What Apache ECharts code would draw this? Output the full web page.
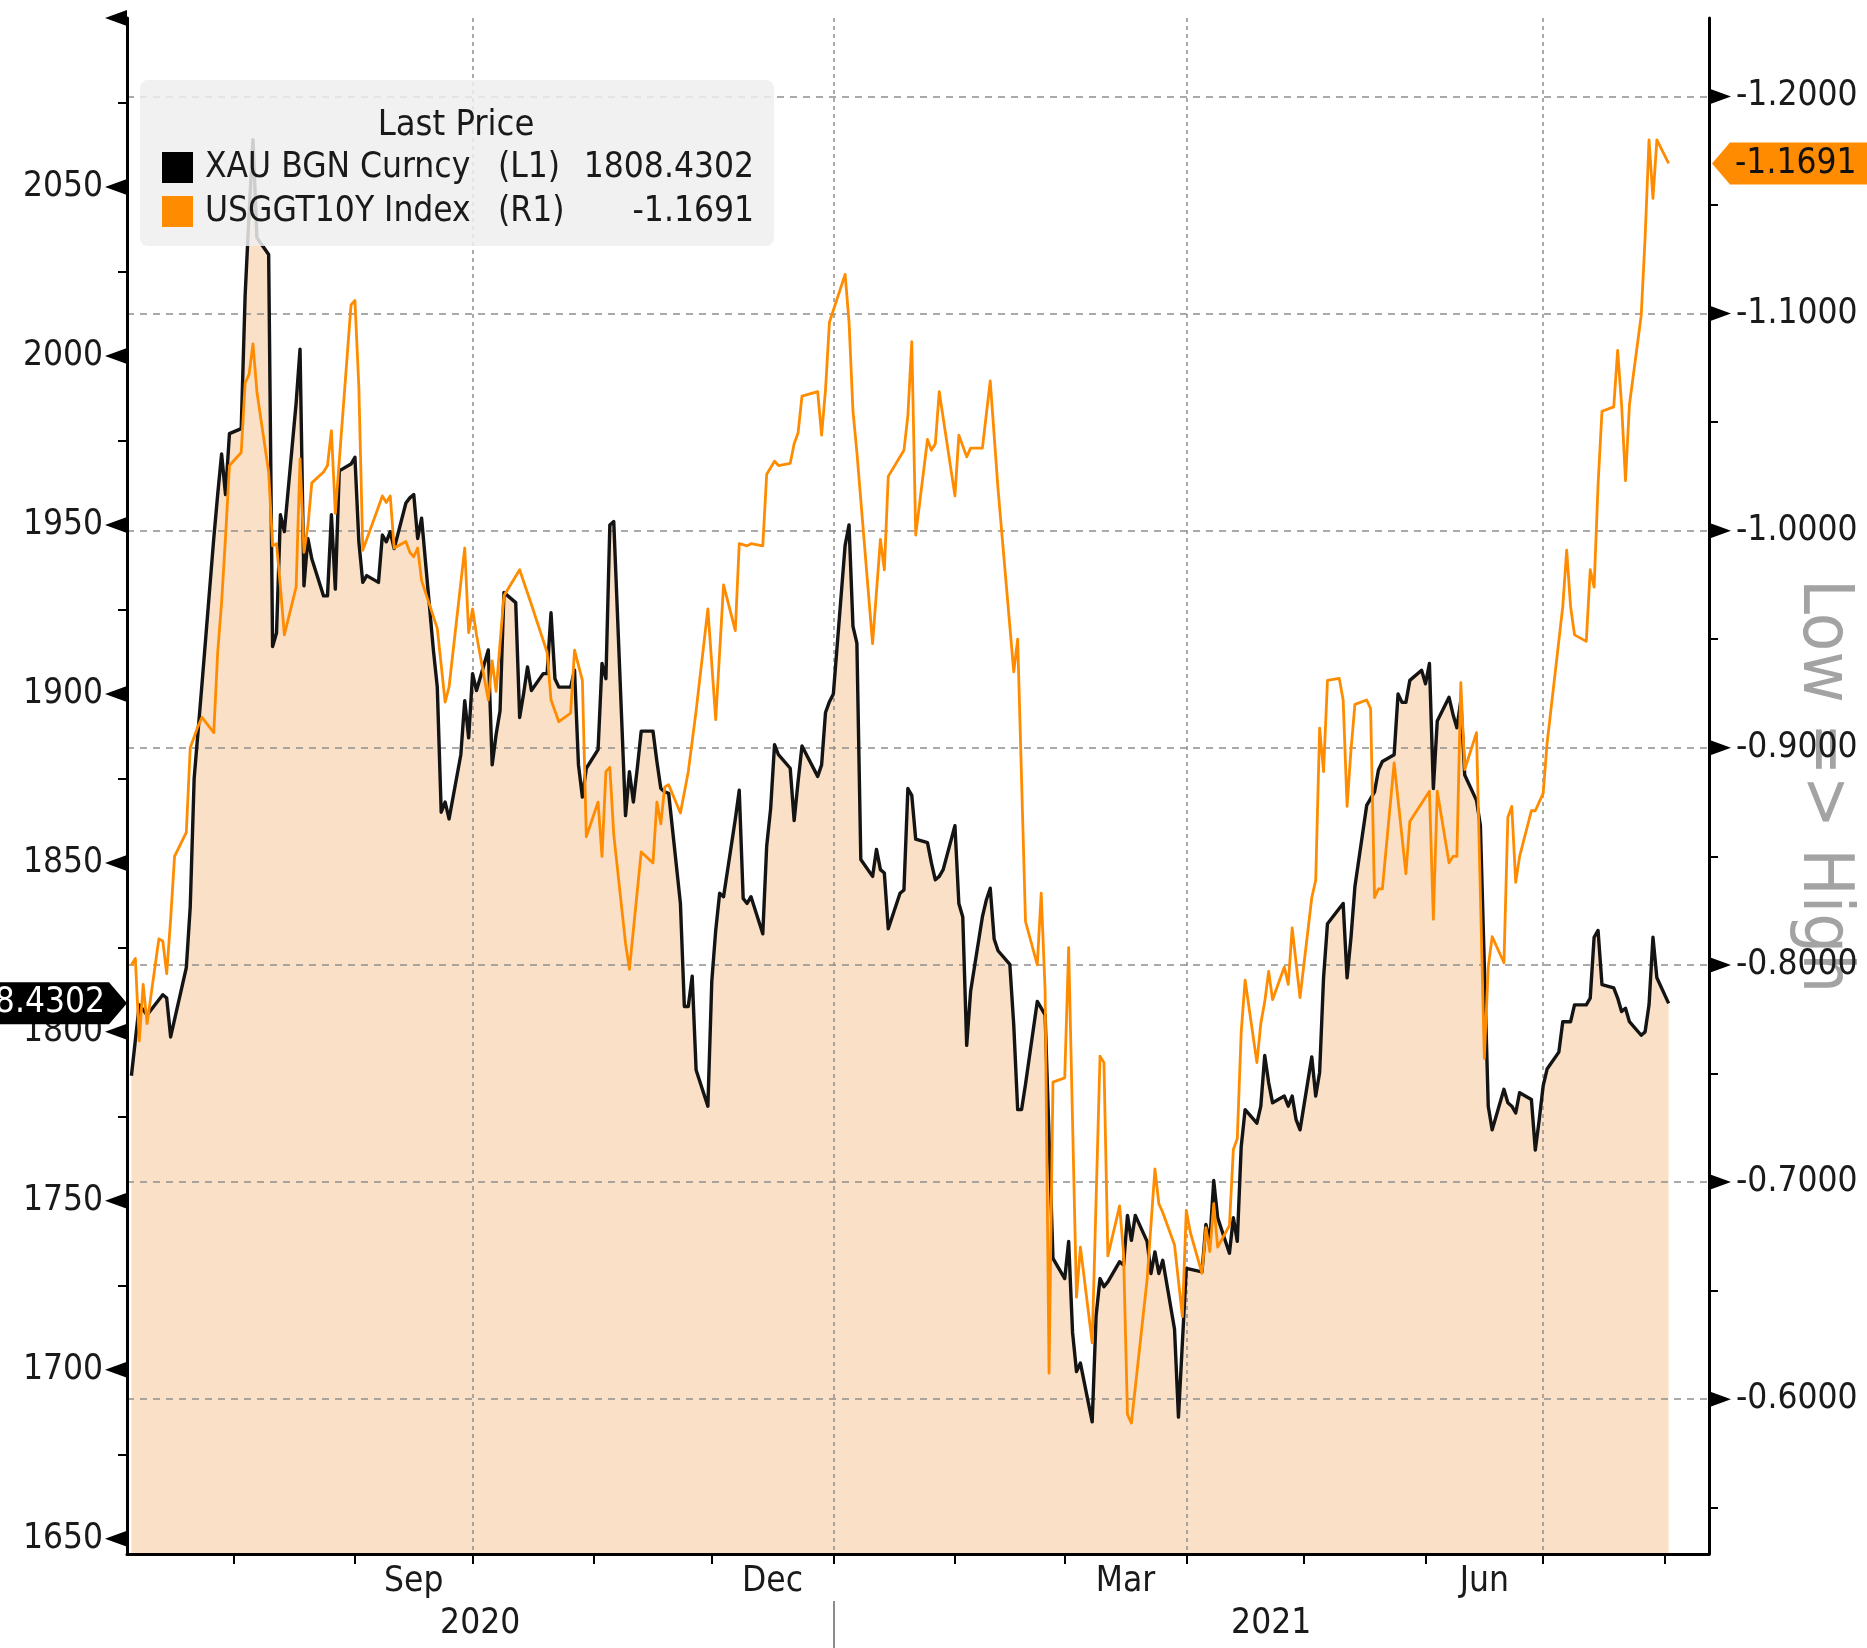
<!DOCTYPE html>
<html>
<head>
<meta charset="UTF-8">
<title>XAU vs USGGT10Y</title>
<script src="https://cdn.jsdelivr.net/npm/echarts@6.0.0/dist/echarts.min.js"></script>
<style>
  html, body { margin: 0; padding: 0; background: #fff; }
  #main { width: 1867px; height: 1648px; }
</style>
</head>
<body>
<div id="main"></div>
<script>
// XAU BGN Curncy (left axis)
var goldDates = [
  '2020-07-06','2020-07-08','2020-07-10','2020-07-14','2020-07-15','2020-07-16','2020-07-20','2020-07-21','2020-07-22','2020-07-24',
  '2020-07-27','2020-07-28','2020-07-29','2020-07-30','2020-07-31','2020-08-03','2020-08-04','2020-08-05','2020-08-06','2020-08-07',
  '2020-08-10','2020-08-11','2020-08-12','2020-08-13','2020-08-14','2020-08-17','2020-08-18','2020-08-19','2020-08-20','2020-08-21',
  '2020-08-24','2020-08-25','2020-08-26','2020-08-27','2020-08-28','2020-08-31','2020-09-01','2020-09-02','2020-09-03','2020-09-04',
  '2020-09-07','2020-09-08','2020-09-09','2020-09-10','2020-09-11','2020-09-14','2020-09-15','2020-09-16','2020-09-17','2020-09-18',
  '2020-09-21','2020-09-22','2020-09-23','2020-09-24','2020-09-25','2020-09-28','2020-09-29','2020-09-30','2020-10-01','2020-10-02',
  '2020-10-05','2020-10-06','2020-10-07','2020-10-08','2020-10-09','2020-10-12','2020-10-13','2020-10-14','2020-10-15','2020-10-16',
  '2020-10-19','2020-10-20','2020-10-21','2020-10-22','2020-10-23','2020-10-26','2020-10-27','2020-10-28','2020-10-29','2020-10-30',
  '2020-11-02','2020-11-03','2020-11-04','2020-11-05','2020-11-06','2020-11-09','2020-11-10','2020-11-11','2020-11-12','2020-11-13',
  '2020-11-16','2020-11-17','2020-11-18','2020-11-19','2020-11-20','2020-11-23','2020-11-24','2020-11-25','2020-11-26','2020-11-27',
  '2020-11-30','2020-12-01','2020-12-02','2020-12-03','2020-12-04','2020-12-07','2020-12-08','2020-12-09','2020-12-10','2020-12-11',
  '2020-12-14','2020-12-15','2020-12-16','2020-12-17','2020-12-18','2020-12-21','2020-12-22','2020-12-23','2020-12-24','2020-12-28',
  '2020-12-29','2020-12-30','2020-12-31','2021-01-01','2021-01-04','2021-01-05','2021-01-06','2021-01-07','2021-01-08','2021-01-11',
  '2021-01-12','2021-01-13','2021-01-14','2021-01-15','2021-01-18','2021-01-19','2021-01-20','2021-01-21','2021-01-22','2021-01-25',
  '2021-01-26','2021-01-27','2021-01-28','2021-01-29','2021-02-01','2021-02-02','2021-02-03','2021-02-04','2021-02-05','2021-02-08',
  '2021-02-09','2021-02-10','2021-02-11','2021-02-12','2021-02-15','2021-02-16','2021-02-17','2021-02-18','2021-02-19','2021-02-22',
  '2021-02-23','2021-02-24','2021-02-25','2021-02-26','2021-03-01','2021-03-02','2021-03-03','2021-03-04','2021-03-05','2021-03-08',
  '2021-03-09','2021-03-10','2021-03-11','2021-03-12','2021-03-15','2021-03-16','2021-03-17','2021-03-18','2021-03-19','2021-03-22',
  '2021-03-23','2021-03-24','2021-03-25','2021-03-26','2021-03-29','2021-03-30','2021-03-31','2021-04-01','2021-04-05','2021-04-06',
  '2021-04-07','2021-04-08','2021-04-09','2021-04-12','2021-04-13','2021-04-14','2021-04-15','2021-04-16','2021-04-19','2021-04-20',
  '2021-04-21','2021-04-22','2021-04-23','2021-04-26','2021-04-27','2021-04-28','2021-04-29','2021-04-30','2021-05-03','2021-05-04',
  '2021-05-05','2021-05-06','2021-05-07','2021-05-10','2021-05-11','2021-05-12','2021-05-13','2021-05-14','2021-05-17','2021-05-18',
  '2021-05-19','2021-05-20','2021-05-21','2021-05-24','2021-05-25','2021-05-26','2021-05-27','2021-05-28','2021-05-31','2021-06-01',
  '2021-06-02','2021-06-03','2021-06-04','2021-06-07','2021-06-08','2021-06-09','2021-06-10','2021-06-11','2021-06-14','2021-06-15',
  '2021-06-17','2021-06-18','2021-06-21','2021-06-22','2021-06-23','2021-06-24','2021-06-25','2021-06-28','2021-06-29','2021-06-30',
  '2021-07-01','2021-07-02','2021-07-05','2021-07-06','2021-07-07','2021-07-08','2021-07-09','2021-07-12','2021-07-13','2021-07-14',
  '2021-07-15','2021-07-16','2021-07-19','2021-07-20','2021-07-21','2021-07-22','2021-07-23','2021-07-26','2021-07-27','2021-07-28',
  '2021-07-29','2021-07-30','2021-08-02'
];
var goldValues = [
  1787,1808,1805,1811,1810,1798.5,1819,1837,1875,1903,
  1946,1959,1971,1959,1977,1978.5,2018,2042,2064,2035,
  2030,1914,1918,1953,1948,1986,2002,1932,1946,1940,
  1929,1929,1953,1931,1966,1968,1970,1945,1933,1935,
  1933,1947,1945,1948,1943,1956.5,1958,1959,1946,1952,
  1913,1902,1865,1868,1863,1882,1898,1887,1906,1901,
  1913,1879,1888,1895,1930,1927,1893,1900,1908,1901,
  1906,1906,1924,1904.5,1902,1902,1907,1879,1869.5,1878,
  1883.5,1909,1904.5,1950,1951,1864,1877,1868,1878,1889,
  1889,1880,1872,1871,1870.6,1838,1807.5,1807.5,1816.5,1788.7,
  1778,1815,1830,1841,1840,1863,1871.5,1839.5,1838,1840,
  1829,1855,1866,1885,1882,1878,1862.5,1874,1884.6,1875.6,
  1879,1894.5,1897.7,1900,1944,1950,1920,1915,1851,1846,
  1854,1848,1847,1830.5,1841,1842,1872,1870,1857,1856,
  1850,1845,1846,1848,1861,1838,1834,1796,1812,1834,
  1839,1842.5,1827.5,1824,1820,1802,1777,1777,1784.5,1809,
  1807,1805,1769,1733,1727,1738,1711,1699.5,1702,1684.6,
  1716,1727,1724.6,1726,1732,1731,1745.7,1738.3,1745.7,1738,
  1728.5,1734.9,1728.5,1732.4,1712,1686,1708,1730,1729,1743,
  1738,1756,1745,1734.5,1745,1738,1766,1777,1773,1778,
  1793,1785,1779,1781,1778,1781,1774,1771,1792.6,1781,
  1788,1816,1832,1836.5,1838,1816,1828,1843,1867,1869,
  1871,1877.5,1880,1882,1900,1897.5,1897.5,1904,1907,1903,
  1909,1872,1892,1899,1894,1890,1898,1876,1868.5,1861,
  1778,1771,1783,1779,1778,1776,1782,1780,1765,1774,
  1784,1789,1794,1803,1803,1803,1808,1808,1810,1828,
  1830,1814,1813,1810,1806,1807,1803,1799,1800,1808,
  1828,1816,1808.4302
];

// USGGT10Y Index (right axis, inverted)
var yieldDates = [
  '2020-07-06','2020-07-07','2020-07-08','2020-07-09','2020-07-10','2020-07-13','2020-07-14','2020-07-15','2020-07-16','2020-07-17',
  '2020-07-20','2020-07-21','2020-07-22','2020-07-23','2020-07-24','2020-07-27','2020-07-28','2020-07-29','2020-07-30','2020-07-31',
  '2020-08-03','2020-08-04','2020-08-05','2020-08-06','2020-08-07','2020-08-10','2020-08-11','2020-08-12','2020-08-13','2020-08-14',
  '2020-08-17','2020-08-18','2020-08-19','2020-08-20','2020-08-21','2020-08-24','2020-08-25','2020-08-26','2020-08-27','2020-08-31',
  '2020-09-01','2020-09-02','2020-09-03','2020-09-08','2020-09-09','2020-09-10','2020-09-11','2020-09-14','2020-09-15','2020-09-16',
  '2020-09-17','2020-09-18','2020-09-22','2020-09-24','2020-09-25','2020-09-29','2020-09-30','2020-10-01','2020-10-02','2020-10-05',
  '2020-10-06','2020-10-07','2020-10-09','2020-10-13','2020-10-16','2020-10-20','2020-10-21','2020-10-23','2020-10-26','2020-10-27',
  '2020-10-29','2020-10-30','2020-11-02','2020-11-03','2020-11-04','2020-11-05','2020-11-06','2020-11-09','2020-11-10','2020-11-13',
  '2020-11-16','2020-11-17','2020-11-18','2020-11-19','2020-11-20','2020-11-23','2020-11-25','2020-11-27','2020-11-30','2020-12-02',
  '2020-12-04','2020-12-07','2020-12-08','2020-12-10','2020-12-11','2020-12-14','2020-12-15','2020-12-17','2020-12-18','2020-12-21',
  '2020-12-22','2020-12-23','2020-12-24','2020-12-28','2020-12-29','2020-12-30','2020-12-31','2021-01-04','2021-01-05','2021-01-06',
  '2021-01-07','2021-01-11','2021-01-13','2021-01-14','2021-01-15','2021-01-19','2021-01-20','2021-01-21','2021-01-22','2021-01-25',
  '2021-01-26','2021-01-27','2021-01-28','2021-02-01','2021-02-02','2021-02-04','2021-02-05','2021-02-08','2021-02-10','2021-02-12',
  '2021-02-16','2021-02-17','2021-02-19','2021-02-22','2021-02-23','2021-02-24','2021-02-25','2021-02-26','2021-03-01','2021-03-02',
  '2021-03-04','2021-03-05','2021-03-08','2021-03-10','2021-03-11','2021-03-12','2021-03-15','2021-03-16','2021-03-17','2021-03-18',
  '2021-03-22','2021-03-24','2021-03-25','2021-03-26','2021-03-29','2021-03-31','2021-04-01','2021-04-02','2021-04-05','2021-04-06',
  '2021-04-07','2021-04-08','2021-04-09','2021-04-12','2021-04-13','2021-04-14','2021-04-15','2021-04-16','2021-04-19','2021-04-20',
  '2021-04-21','2021-04-22','2021-04-23','2021-04-26','2021-04-27','2021-04-28','2021-04-30','2021-05-03','2021-05-04','2021-05-05',
  '2021-05-06','2021-05-07','2021-05-10','2021-05-11','2021-05-12','2021-05-13','2021-05-14','2021-05-17','2021-05-18','2021-05-19',
  '2021-05-20','2021-05-21','2021-05-24','2021-05-27','2021-05-28','2021-06-02','2021-06-03','2021-06-04','2021-06-07','2021-06-08',
  '2021-06-09','2021-06-10','2021-06-11','2021-06-14','2021-06-16','2021-06-17','2021-06-18','2021-06-21','2021-06-22','2021-06-23',
  '2021-06-24','2021-06-25','2021-06-28','2021-06-29','2021-07-01','2021-07-02','2021-07-06','2021-07-07','2021-07-08','2021-07-09',
  '2021-07-12','2021-07-13','2021-07-14','2021-07-15','2021-07-16','2021-07-19','2021-07-20','2021-07-21','2021-07-22','2021-07-23',
  '2021-07-26','2021-07-27','2021-07-28','2021-07-29','2021-07-30','2021-08-02'
];
var yieldValues = [
  -0.800,-0.803,-0.765,-0.791,-0.773,-0.812,-0.811,-0.796,-0.821,-0.850,
  -0.861,-0.900,-0.905,-0.910,-0.914,-0.907,-0.944,-0.967,-0.997,-1.030,
  -1.036,-1.068,-1.072,-1.086,-1.064,-1.027,-0.993,-0.994,-0.974,-0.952,
  -0.974,-1.033,-0.990,-1.002,-1.022,-1.027,-1.030,-1.046,-1.008,-1.104,
  -1.106,-1.066,-0.991,-1.016,-1.013,-1.016,-0.992,-0.995,-0.990,-0.988,
  -0.992,-0.977,-0.955,-0.921,-0.928,-0.992,-0.953,-0.964,-0.952,-0.922,
  -0.940,-0.926,-0.970,-0.982,-0.966,-0.944,-0.922,-0.912,-0.916,-0.945,
  -0.931,-0.859,-0.875,-0.850,-0.889,-0.891,-0.860,-0.810,-0.798,-0.852,
  -0.847,-0.875,-0.865,-0.882,-0.883,-0.870,-0.889,-0.917,-0.964,-0.913,
  -0.975,-0.954,-0.994,-0.993,-0.994,-0.993,-1.026,-1.032,-1.030,-1.031,
  -1.040,-1.045,-1.062,-1.064,-1.044,-1.065,-1.096,-1.118,-1.096,-1.055,
  -1.036,-0.948,-0.996,-0.982,-1.025,-1.037,-1.053,-1.087,-0.998,-1.042,
  -1.037,-1.040,-1.064,-1.016,-1.044,-1.034,-1.038,-1.038,-1.069,-1.019,
  -0.935,-0.950,-0.820,-0.800,-0.833,-0.788,-0.612,-0.746,-0.748,-0.808,
  -0.647,-0.670,-0.626,-0.758,-0.755,-0.666,-0.689,-0.667,-0.593,-0.589,
  -0.655,-0.706,-0.690,-0.686,-0.671,-0.638,-0.687,-0.677,-0.658,-0.679,
  -0.668,-0.690,-0.670,-0.680,-0.715,-0.720,-0.769,-0.793,-0.755,-0.773,
  -0.783,-0.797,-0.784,-0.799,-0.791,-0.817,-0.785,-0.831,-0.839,-0.909,
  -0.889,-0.931,-0.932,-0.922,-0.873,-0.899,-0.920,-0.922,-0.918,-0.831,
  -0.835,-0.835,-0.893,-0.842,-0.866,-0.880,-0.821,-0.880,-0.847,-0.850,
  -0.850,-0.930,-0.890,-0.907,-0.757,-0.799,-0.813,-0.801,-0.868,-0.873,
  -0.838,-0.850,-0.871,-0.871,-0.879,-0.902,-0.965,-0.991,-0.965,-0.952,
  -0.949,-0.982,-0.974,-1.021,-1.055,-1.057,-1.083,-1.058,-1.023,-1.058,
  -1.099,-1.135,-1.180,-1.153,-1.180,-1.1691
];

// axes: ranges, ticks and labels
var xMin = '2020-07-04 21:00';
var xMax = '2021-08-12 07:00';
var monthTicks = ['2020-08-01','2020-09-01','2020-10-01','2020-11-01','2020-12-01','2021-01-01','2021-02-01',
                  '2021-03-01','2021-04-01','2021-05-01','2021-06-01','2021-07-01','2021-08-01'];
var monthLabels = ['2020-09-16','2020-12-16 12:00','2021-03-16 12:00','2021-06-16'];
var quarterLines = ['2020-10-01','2021-01-01','2021-04-01','2021-07-01'];
var yearSplit = '2021-01-01';

var leftMin = 1645.5, leftMax = 2100;
var leftTicks = [1650,1675,1700,1725,1750,1775,1800,1825,1850,1875,1900,1925,1950,1975,2000,2025,2050,2075,2100];
var leftMajor = [1650,1700,1750,1800,1850,1900,1950,2000,2050,2100];
var leftLabels = [1650,1700,1750,1800,1850,1900,1950,2000,2050];

var rightMin = -1.2361, rightMax = -0.5287;
var rightTicks = [-1.2,-1.15,-1.1,-1.05,-1.0,-0.95,-0.9,-0.85,-0.8,-0.75,-0.7,-0.65,-0.6,-0.55];
var rightLabels = [-1.2,-1.1,-1.0,-0.9,-0.8,-0.7,-0.6];

var FONT = "'DejaVu Sans Condensed', 'Liberation Sans Narrow', 'DejaVu Sans', sans-serif";
var monthNames = ['Jan','Feb','Mar','Apr','May','Jun','Jul','Aug','Sep','Oct','Nov','Dec'];

// local-time timestamp from 'YYYY-MM-DD[ HH:mm]'
function toTime(s) {
  var p = s.split(/[- :]/).map(Number);
  return new Date(p[0], p[1] - 1, p[2], p[3] || 0, p[4] || 0).getTime();
}
var tMin = toTime(xMin), tMax = toTime(xMax), tSplit = toTime(yearSplit);
var yearLabels = [(tMin + tSplit) / 2, (tSplit + tMax) / 2];

var goldData = goldDates.map(function (d, i) { return [toTime(d), goldValues[i]]; });
var yieldData = yieldDates.map(function (d, i) { return [toTime(d), yieldValues[i]]; });
var goldLast = goldValues[goldValues.length - 1];
var yieldLast = yieldValues[yieldValues.length - 1];

var gridStyle = { color: '#8f8f8f', width: 1.5, type: [7, 6] };
var vGridStyle = { color: '#8f8f8f', width: 1.5, type: [4, 4] };
var labelStyle = { fontSize: 35, fontFamily: FONT, color: '#1a1a1a' };

var chart = echarts.init(document.getElementById('main'));
var option = {
  animation: false,
  backgroundColor: '#fff',
  grid: { left: 127, right: 158, top: 18, bottom: 94 },
  xAxis: [
    {
      type: 'value', min: tMin, max: tMax, position: 'bottom', z: 15,
      axisLine: { lineStyle: { color: '#000', width: 3 } },
      axisTick: { show: true, customValues: monthTicks.map(toTime), length: 10, lineStyle: { color: '#000', width: 2 } },
      axisLabel: Object.assign({
        customValues: monthLabels.map(toTime), margin: 10,
        formatter: function (v) { return monthNames[new Date(v).getMonth()]; }
      }, labelStyle),
      splitLine: { show: false }
    },
    {
      type: 'value', min: tMin, max: tMax, position: 'bottom', offset: 47, z: 15,
      axisLine: { show: false },
      axisTick: { show: true, customValues: [tSplit], length: 47, lineStyle: { color: '#666', width: 1.5 } },
      axisLabel: Object.assign({
        customValues: yearLabels, margin: 5,
        formatter: function (v) { return String(new Date(v).getFullYear()); }
      }, labelStyle),
      splitLine: { show: false }
    }
  ],
  yAxis: [
    {
      type: 'value', min: leftMin, max: leftMax, position: 'left', z: 15,
      axisLine: { show: true, lineStyle: { color: '#000', width: 3 } },
      axisTick: { show: true, customValues: leftTicks, length: 9, lineStyle: { color: '#000', width: 2 } },
      axisLabel: Object.assign({
        customValues: leftLabels, margin: 24,
        formatter: function (v) { return String(v); }
      }, labelStyle),
      splitLine: { show: false }
    },
    {
      type: 'value', min: rightMin, max: rightMax, inverse: true, position: 'right', z: 15,
      axisLine: { show: true, lineStyle: { color: '#000', width: 3 } },
      axisTick: { show: true, customValues: rightTicks, length: 9, lineStyle: { color: '#000', width: 2 } },
      axisLabel: Object.assign({
        customValues: rightLabels, margin: 27,
        formatter: function (v) { return v.toFixed(4); }
      }, labelStyle),
      splitLine: { show: false }
    }
  ],
  series: [
    {
      // peach fill under gold
      name: 'XAU fill', type: 'line', xAxisIndex: 0, yAxisIndex: 0, data: goldData,
      symbol: 'none', silent: true, z: 1,
      lineStyle: { width: 0, opacity: 0 },
      areaStyle: { color: '#fae0c6', opacity: 1, origin: 'start' }
    },
    {
      name: 'XAU BGN Curncy', type: 'line', xAxisIndex: 0, yAxisIndex: 0, data: goldData,
      symbol: 'none', silent: true, z: 9,
      lineStyle: { color: '#141414', width: 3.4, join: 'round' }
    },
    {
      name: 'USGGT10Y Index', type: 'line', xAxisIndex: 0, yAxisIndex: 1, data: yieldData,
      symbol: 'none', silent: true, z: 10,
      lineStyle: { color: '#ff8c00', width: 2.8, join: 'round' },
      markLine: {
        silent: true, symbol: ['none', 'none'], z: 3, animation: false,
        label: { show: false },
        emphasis: { disabled: true },
        data: quarterLines.map(function (d) { return { xAxis: toTime(d), lineStyle: vGridStyle }; })
          .concat(rightLabels.map(function (v) { return { yAxis: v, lineStyle: gridStyle }; }))
      }
    }
  ]
};
chart.setOption(option);

// bloomberg-style decorations: tick arrows, legend, last-price tags, axis title
function decorations() {
  var xL = chart.convertToPixel({ xAxisIndex: 0 }, tMin);
  var xR = chart.convertToPixel({ xAxisIndex: 0 }, tMax);
  var W = chart.getWidth();
  var els = [];
  leftMajor.forEach(function (v) {
    var y = chart.convertToPixel({ yAxisIndex: 0 }, v);
    els.push({ type: 'polygon', silent: true, z: 20,
      shape: { points: [[xL, y - 8], [xL, y + 8], [xL - 22, y]] }, style: { fill: '#000' } });
  });
  rightLabels.forEach(function (v) {
    var y = chart.convertToPixel({ yAxisIndex: 1 }, v);
    els.push({ type: 'polygon', silent: true, z: 20,
      shape: { points: [[xR, y - 8], [xR, y + 8], [xR + 22, y]] }, style: { fill: '#000' } });
  });

  // axis title
  els.push({ type: 'text', silent: true, z: -1, x: 1822, y: 786, rotation: -Math.PI / 2,
    style: { text: 'Low => High', fill: '#a3a3a3', font: '70px ' + FONT, align: 'center', verticalAlign: 'middle' } });

  // legend
  els.push({ type: 'rect', silent: true, z: 100,
    shape: { x: 140, y: 80, width: 634, height: 166, r: 8 }, style: { fill: 'rgba(238,238,238,0.85)' } });
  var tf = '35px ' + FONT;
  els.push({ type: 'text', silent: true, z: 101, x: 456, y: 126,
    style: { text: 'Last Price', font: '36px ' + FONT, fill: '#1a1a1a', align: 'center', verticalAlign: 'middle' } });
  els.push({ type: 'rect', silent: true, z: 101, shape: { x: 162, y: 152, width: 31, height: 31 }, style: { fill: '#000' } });
  els.push({ type: 'rect', silent: true, z: 101, shape: { x: 162, y: 196, width: 31, height: 31 }, style: { fill: '#ff8c00' } });
  [['XAU BGN Curncy', '(L1)', goldLast.toFixed(4), 168], ['USGGT10Y Index', '(R1)', yieldLast.toFixed(4), 212]].forEach(function (r) {
    els.push({ type: 'text', silent: true, z: 101, x: 205, y: r[3],
      style: { text: r[0], font: tf, fill: '#1a1a1a', align: 'left', verticalAlign: 'middle' } });
    els.push({ type: 'text', silent: true, z: 101, x: 498, y: r[3],
      style: { text: r[1], font: tf, fill: '#1a1a1a', align: 'left', verticalAlign: 'middle' } });
    els.push({ type: 'text', silent: true, z: 101, x: 754, y: r[3],
      style: { text: r[2], font: tf, fill: '#1a1a1a', align: 'right', verticalAlign: 'middle' } });
  });

  // last price tags
  var yg = chart.convertToPixel({ yAxisIndex: 0 }, goldLast);
  els.push({ type: 'polygon', silent: true, z: 110,
    shape: { points: [[0, yg - 21], [xL - 18, yg - 21], [xL, yg], [xL - 18, yg + 21], [0, yg + 21]] }, style: { fill: '#000' } });
  els.push({ type: 'text', silent: true, z: 111, x: 105, y: yg,
    style: { text: goldLast.toFixed(4), font: '35px ' + FONT, fill: '#fff', align: 'right', verticalAlign: 'middle' } });
  var yy = chart.convertToPixel({ yAxisIndex: 1 }, yieldLast);
  els.push({ type: 'polygon', silent: true, z: 110,
    shape: { points: [[xR + 3, yy], [xR + 21, yy - 21], [W, yy - 21], [W, yy + 21], [xR + 21, yy + 21]] }, style: { fill: '#ff8c00' } });
  els.push({ type: 'text', silent: true, z: 111, x: 1735, y: yy,
    style: { text: yieldLast.toFixed(4), font: '35px ' + FONT, fill: '#111', align: 'left', verticalAlign: 'middle' } });

  chart.setOption({ graphic: { elements: els } });
}
decorations();
</script>
</body>
</html>
